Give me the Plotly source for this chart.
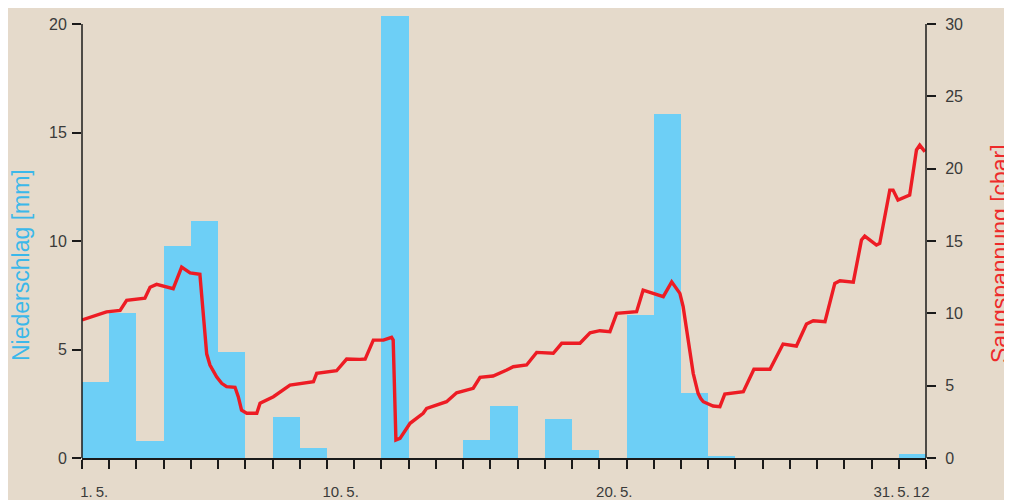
import plotly.graph_objects as go

# ---- data ----
days = list(range(1, 32))
niederschlag = [3.5, 6.7, 0.8, 9.75, 10.9, 4.9, 0.0, 1.9, 0.45, 0.0,
                0.0, 20.4, 0.0, 0.0, 0.85, 2.4, 0.0, 1.8, 0.37, 0.0,
                6.6, 15.85, 3.0, 0.1, 0.0, 0.0, 0.0, 0.0, 0.0, 0.0, 0.2]

# Saugspannung: time in days since 1.5. 00:00, value in cbar
sp_t = [0.0, 0.41, 0.9, 1.4, 1.64, 2.31, 2.5, 2.74, 3.35, 3.66, 3.97, 4.33,
        4.46, 4.58, 4.70, 4.95, 5.13, 5.31, 5.62, 5.74, 5.86, 5.99, 6.05, 6.42,
        6.54, 7.03, 7.64,
        8.5, 8.62, 9.35, 9.72, 10.21, 10.4, 10.7, 11.07, 11.37, 11.43, 11.53,
        11.68, 12.05, 12.53, 12.66, 13.39, 13.76, 14.37, 14.62, 15.1, 15.6,
        15.84, 16.33, 16.7, 17.31, 17.62, 18.29, 18.66, 19.02, 19.39, 19.64,
        20.37, 20.61, 20.98, 21.35, 21.66, 21.96, 22.08, 22.33, 22.45, 22.63,
        22.72, 22.82,
        23.18, 23.43, 23.61, 24.29, 24.68, 25.27, 25.75, 26.24, 26.61, 26.86,
        27.29, 27.65, 27.84, 28.33, 28.63, 28.75, 29.18, 29.3, 29.67, 29.79,
        29.97, 30.4, 30.65, 30.77, 30.96]
sp_v = [9.54, 9.77, 10.1, 10.2, 10.9, 11.05, 11.8, 12.0, 11.7, 13.2, 12.8, 12.7,
        9.77, 7.2, 6.43, 5.6, 5.16, 4.93, 4.89, 4.24, 3.3, 3.13, 3.09, 3.09,
        3.78, 4.24, 5.04,
        5.27, 5.85, 6.03, 6.84, 6.82, 6.84, 8.15, 8.15, 8.34, 8.15, 1.24,
        1.36, 2.4, 3.09, 3.43, 3.89, 4.51, 4.82, 5.58, 5.67, 6.08,
        6.31, 6.43, 7.3, 7.24, 7.93, 7.93, 8.66, 8.8, 8.73, 10.0,
        10.11, 11.6, 11.38, 11.15, 12.18, 11.38, 10.46, 7.24, 5.85, 4.47,
        4.13, 3.89,
        3.59, 3.55, 4.42, 4.58, 6.13, 6.13, 7.88, 7.74, 9.26, 9.49,
        9.42, 12.07, 12.25, 12.16, 15.07, 15.34, 14.72, 14.83, 18.52, 18.52,
        17.83, 18.17, 21.29, 21.63, 21.17]

x_tick_pos = [0.45, 9.5, 19.55, 30.1]
x_tick_text = ["1.\u20095.", "10.\u20095.", "20.\u20095.", "31.\u20095.\u200912"]
left_ticks = [0, 5, 10, 15, 20]
right_ticks = [0, 5, 10, 15, 20, 25, 30]
left_max, right_max = 20, 30

BG = "#e5dacb"
BLUE = "#6dcff6"
RED = "#ed1c24"
TXT = "#3a3a3a"
AX = "#1a1a1a"
FONT = "Liberation Sans, Arial, sans-serif"

# plot area: page y 16..458 ; the axis scale tops (20 / 30) sit at page y 24
PLOT_TOP, SCALE_TOP, PLOT_BOTTOM = 16, 24, 458
head = (PLOT_BOTTOM - PLOT_TOP) / (PLOT_BOTTOM - SCALE_TOP)

fig = go.Figure()
fig.add_trace(go.Bar(
    x=[d - 0.5 for d in days], y=niederschlag, width=1.0,
    marker=dict(color=BLUE, line=dict(width=0)),
    xaxis="x", yaxis="y", showlegend=False, hoverinfo="skip"))
fig.add_trace(go.Scatter(
    x=sp_t, y=sp_v, mode="lines",
    line=dict(color=RED, width=3.4, shape="linear"),
    xaxis="x2", yaxis="y2", showlegend=False, hoverinfo="skip"))

axis_common = dict(showgrid=False, zeroline=False, linecolor=AX,
                   linewidth=1.5, tickcolor=AX, tickwidth=1.5,
                   automargin=False,
                   tickfont=dict(family=FONT, size=16, color=TXT))

def py(page_y):
    return (PLOT_BOTTOM - page_y) / (PLOT_BOTTOM - PLOT_TOP)

# the page body has an 8px margin, so the figure is sized to fit the window
fig.update_layout(
    width=1004, height=492, autosize=False,
    margin=dict(l=74, r=86, t=PLOT_TOP - 8, b=42),
    paper_bgcolor=BG, plot_bgcolor=BG,
    bargap=0,
    xaxis=dict(range=[0, 31], tickvals=list(range(32)), ticks="outside",
               ticklen=9, showticklabels=False, showline=True,
               anchor="y", **axis_common),
    xaxis2=dict(range=[0, 31], overlaying="x", anchor="y2", side="bottom",
                tickvals=x_tick_pos, ticktext=x_tick_text, ticks="",
                showline=False, showgrid=False, zeroline=False,
                automargin=False, ticklabelstandoff=23,
                tickfont=dict(family=FONT, size=15, color=TXT)),
    yaxis=dict(range=[0, left_max * head], tickvals=left_ticks, ticks="outside",
               ticklen=9, showline=False, anchor="x", ticklabelstandoff=2,
               **{k: v for k, v in axis_common.items()}),
    yaxis2=dict(range=[0, right_max * head], tickvals=right_ticks,
                ticks="outside", ticklen=9, showline=False, overlaying="y",
                side="right", anchor="x2", ticklabelstandoff=6,
                **axis_common),
    shapes=[
        dict(type="line", xref="paper", yref="y", x0=0, x1=0,
             y0=0, y1=left_max, line=dict(color=AX, width=1.5)),
        dict(type="line", xref="paper", yref="y2", x0=1, x1=1,
             y0=0, y1=right_max, line=dict(color=AX, width=1.5)),
    ],
    annotations=[
        dict(text="Niederschlag [mm]", xref="paper", yref="paper",
             x=(21 - 82) / 844, y=py(265), textangle=-90,
             showarrow=False, xanchor="center", yanchor="middle",
             font=dict(family=FONT, size=23, color="#3bb8ea")),
        dict(text="Saugspannung [cbar]", xref="paper", yref="paper",
             x=(1000 - 82) / 844, y=py(254), textangle=-90,
             showarrow=False, xanchor="center", yanchor="middle",
             font=dict(family=FONT, size=23, color="#ee2a2a")),
    ],
)

fig.write_html("out.html")
